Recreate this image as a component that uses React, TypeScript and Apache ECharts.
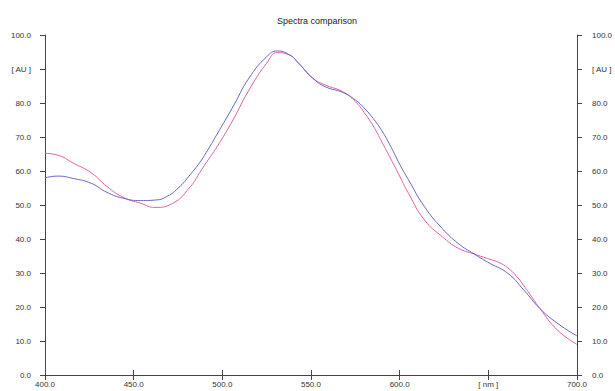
import React, { useEffect, useRef } from "react";
import * as echarts from "echarts";

const title = "Spectra comparison";
const xTickLabels: Record<number, string> = { 400: "400.0", 450: "450.0", 500: "500.0", 550: "550.0", 600: "600.0", 650: "[ nm ]", 700: "700.0" };
const yTickLabels: Record<number, string> = { 0: "0.0", 10: "10.0", 20: "20.0", 30: "30.0", 40: "40.0", 50: "50.0", 60: "60.0", 70: "70.0", 80: "80.0", 90: "[ AU ]", 100: "100.0" };

const pinkNm = [400, 407, 416, 426, 435, 444, 454, 462, 472, 482, 487, 491, 497, 506, 515, 525, 531, 538, 543, 551, 558, 568, 575, 580, 585, 590, 595, 600, 605, 614, 624, 633, 642, 651, 656, 661, 666, 670, 675, 679, 689, 700];
const pinkVal = [65.2, 64.7, 62.3, 59.5, 55.4, 52.3, 50.5, 49.3, 50.5, 55.4, 59.3, 62.5, 67.1, 75.0, 83.8, 91.7, 94.8, 94.1, 91.7, 87.3, 85.3, 83.3, 80.4, 77.2, 73.3, 68.5, 63.6, 58.5, 53.4, 45.6, 40.7, 37.3, 35.6, 34.0, 33.1, 31.5, 29.0, 26.3, 22.6, 19.6, 13.2, 9.0];

const blueNm = [400, 407, 416, 426, 435, 444, 454, 463, 468, 475, 482, 487, 491, 497, 506, 515, 525, 531, 538, 543, 551, 558, 568, 575, 580, 585, 590, 595, 600, 605, 614, 624, 633, 642, 651, 661, 670, 679, 689, 700];
const blueVal = [58.0, 58.5, 57.8, 56.4, 53.7, 52.0, 51.3, 51.5, 52.3, 54.9, 59.0, 62.3, 65.5, 70.8, 78.9, 87.3, 93.6, 95.3, 94.1, 91.7, 87.3, 84.8, 83.1, 80.9, 78.5, 75.5, 71.8, 67.2, 62.0, 57.4, 49.5, 43.1, 38.7, 35.6, 32.8, 29.9, 25.0, 19.6, 15.2, 11.5];

const pinkColor = "#e0609f";
const blueColor = "#6666c4";

export default function App() {
  const ref = useRef<HTMLDivElement>(null);
  useEffect(() => {
    if (!ref.current) return;
    const chart = echarts.init(ref.current, null, { renderer: "svg" });
    const axisLine = { show: true, lineStyle: { color: "#444", width: 1 } };
    const axisTick = { show: true, length: 5, lineStyle: { color: "#444", width: 1 } };
    const labelStyle = { fontSize: 8, color: "#333", fontFamily: "Liberation Sans, Arial, sans-serif" };
    const xBase = { type: "value", min: 400, max: 700, interval: 50, axisLine, axisTick, splitLine: { show: false } };
    const yBase = { type: "value", min: 0, max: 100, interval: 10, axisLine, axisTick, splitLine: { show: false } };
    chart.setOption({
      animation: false,
      backgroundColor: "#fff",
      title: {
        text: title,
        left: 312,
        textAlign: "center",
        top: 11,
        textStyle: { fontSize: 9, fontWeight: "normal", color: "#222", fontFamily: "Liberation Sans, Arial, sans-serif" },
      },
      grid: { left: 45, right: 35, top: 35, bottom: 16 },
      xAxis: [
        { ...xBase, position: "bottom", axisLabel: { ...labelStyle, margin: 5, formatter: (v: number) => xTickLabels[v] ?? "" } },
        { ...xBase, position: "top", axisLabel: { show: false } },
      ],
      yAxis: [
        { ...yBase, position: "left", axisLabel: { ...labelStyle, margin: 14, formatter: (v: number) => yTickLabels[v] ?? "" } },
        { ...yBase, position: "right", axisLabel: { ...labelStyle, margin: 15, formatter: (v: number) => yTickLabels[v] ?? "" } },
      ],
      series: [
        {
          type: "line",
          data: pinkNm.map((x, i) => [x, pinkVal[i]]),
          smooth: 0.5,
          showSymbol: false,
          lineStyle: { color: pinkColor, width: 1 },
          z: 2,
        },
        {
          type: "line",
          data: blueNm.map((x, i) => [x, blueVal[i]]),
          smooth: 0.5,
          showSymbol: false,
          lineStyle: { color: blueColor, width: 1 },
          z: 3,
        },
      ],
    });
    return () => chart.dispose();
  }, []);
  return <div ref={ref} style={{ position: "fixed", left: 0, top: 0, width: 615, height: 391, background: "#fff" }} />;
}
